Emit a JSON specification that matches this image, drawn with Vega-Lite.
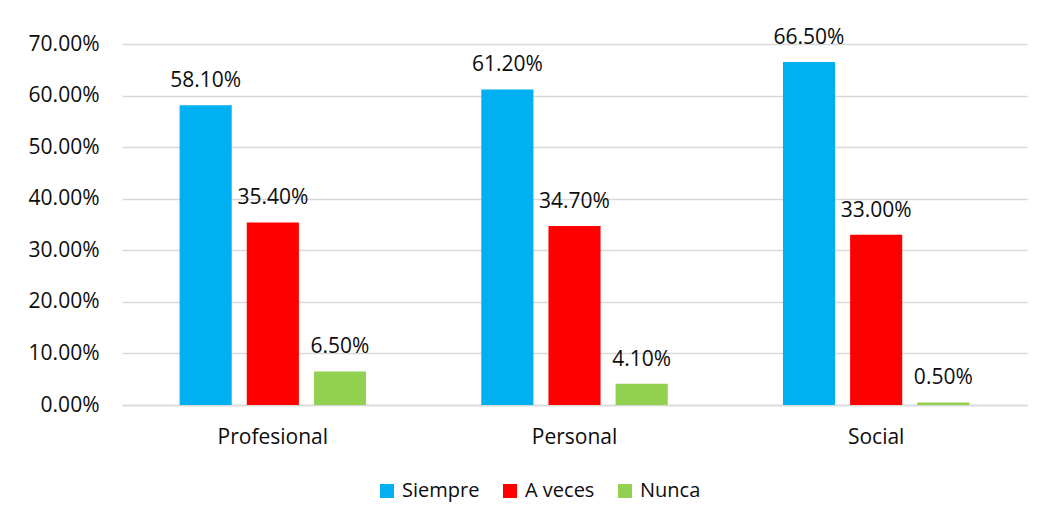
{
  "$schema": "https://vega.github.io/schema/vega-lite/v6.json",
  "width": 905,
  "height": 361,
  "autosize": {"type": "none"},
  "padding": {"left": 122, "top": 44, "right": 15, "bottom": 112},
  "background": "white",
  "config": {
    "view": {"stroke": null},
    "font": "Open Sans",
    "text": {"font": "Open Sans"}
  },
  "data": {
    "values": [
      {"categoria": "Profesional", "serie": "Siempre", "valor": 0.581},
      {"categoria": "Profesional", "serie": "A veces", "valor": 0.354},
      {"categoria": "Profesional", "serie": "Nunca", "valor": 0.065},
      {"categoria": "Personal", "serie": "Siempre", "valor": 0.612},
      {"categoria": "Personal", "serie": "A veces", "valor": 0.347},
      {"categoria": "Personal", "serie": "Nunca", "valor": 0.041},
      {"categoria": "Social", "serie": "Siempre", "valor": 0.665},
      {"categoria": "Social", "serie": "A veces", "valor": 0.33},
      {"categoria": "Social", "serie": "Nunca", "valor": 0.005}
    ]
  },
  "encoding": {
    "x": {
      "field": "categoria",
      "type": "nominal",
      "sort": ["Profesional", "Personal", "Social"],
      "scale": {"paddingInner": 0, "paddingOuter": 0},
      "axis": {
        "title": null,
        "labelAngle": 0,
        "labelFontSize": 21,
        "labelColor": "#0d0d0d",
        "labelFont": "Open Sans",
        "labelPadding": 21,
        "ticks": false,
        "domain": true,
        "domainColor": "#d9d9d9",
        "domainWidth": 1.5
      }
    },
    "xOffset": {
      "field": "serie",
      "type": "nominal",
      "sort": ["Siempre", "A veces", "Nunca"],
      "scale": {"paddingInner": 0.224, "paddingOuter": 0.858}
    },
    "y": {
      "field": "valor",
      "type": "quantitative",
      "scale": {"domain": [0, 0.7], "nice": false},
      "axis": {
        "title": null,
        "values": [0, 0.1, 0.2, 0.3, 0.4, 0.5, 0.6, 0.7],
        "format": ".2%",
        "labelFontSize": 21,
        "labelColor": "#0d0d0d",
        "labelFont": "Open Sans",
        "labelPadding": 23,
        "ticks": false,
        "domain": false,
        "grid": true,
        "gridColor": "#d9d9d9",
        "gridWidth": 1.5
      }
    }
  },
  "layer": [
    {
      "mark": {"type": "bar"},
      "encoding": {
        "color": {
          "field": "serie",
          "type": "nominal",
          "sort": ["Siempre", "A veces", "Nunca"],
          "scale": {"domain": ["Siempre", "A veces", "Nunca"], "range": ["#00B0F0", "#FF0000", "#92D050"]},
          "legend": {
            "title": null,
            "orient": "none",
            "direction": "horizontal",
            "legendX": 255,
            "legendY": 437,
            "symbolType": "square",
            "symbolSize": 196,
            "symbolStrokeWidth": 0,
            "labelFontSize": 20,
            "labelFont": "Open Sans",
            "labelColor": "#0d0d0d",
            "labelOffset": 5,
            "columnPadding": 20
          }
        }
      }
    },
    {
      "mark": {"type": "text", "baseline": "alphabetic", "dy": -18, "fontSize": 21, "color": "#0d0d0d", "font": "Open Sans"},
      "encoding": {
        "text": {"field": "valor", "type": "quantitative", "format": ".2%"}
      }
    }
  ]
}
